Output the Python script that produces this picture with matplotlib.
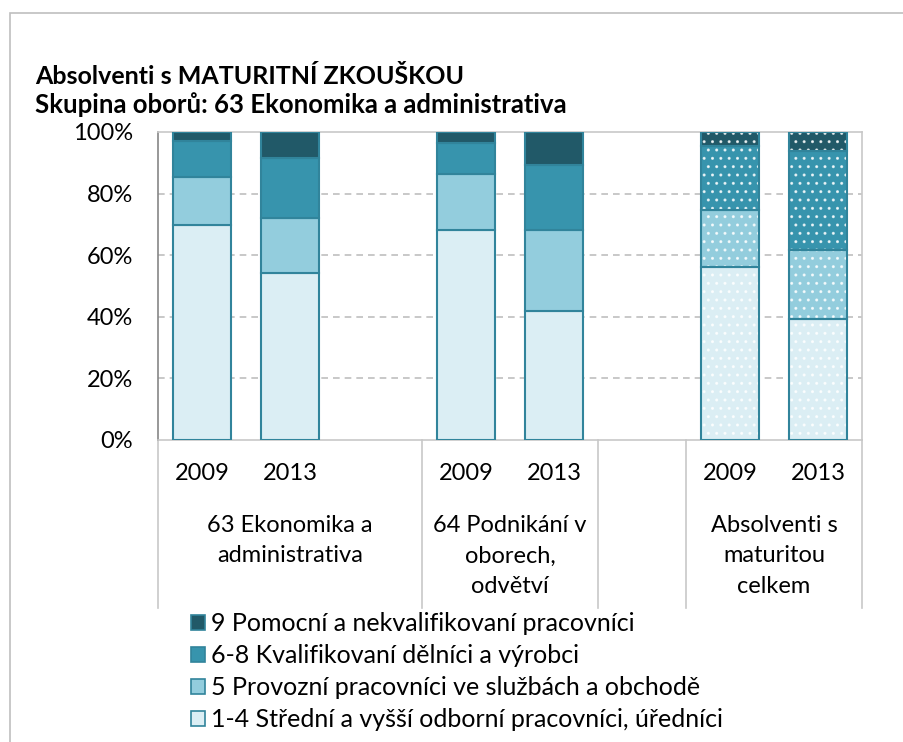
import matplotlib
matplotlib.use('Agg')
import matplotlib.pyplot as plt
from matplotlib.patches import Patch, Rectangle
import numpy as np

plt.rcParams['font.family'] = ['Lato', 'DejaVu Sans']
plt.rcParams['hatch.linewidth'] = 1.0

# data (shares)
years = ['2009', '2013', '2009', '2013', '2009', '2013']
slots = [0, 1, 3, 4, 6, 7]
groups = ['63 Ekonomika a\nadministrativa', '64 Podnikání v\noborech,\nodvětví',
          'Absolventi s\nmaturitou\ncelkem']
series = ['1-4 Střední a vyšší odborní pracovníci, úředníci',
          '5 Provozní pracovníci ve službách a obchodě',
          '6-8 Kvalifikovaní dělníci a výrobci',
          '9 Pomocní a nekvalifikovaní pracovníci']
s_14 = [69.7, 54.2, 68.3, 41.9, 56.1, 39.4]
s_5 = [15.8, 18.0, 18.2, 26.4, 18.7, 22.2]
s_68 = [11.6, 19.3, 9.8, 20.9, 20.7, 32.2]
s_9 = [2.9, 8.5, 3.7, 10.8, 4.5, 6.2]
dotted = [False, False, False, False, True, True]

colors = ['#dbeef4', '#93cddd', '#3794ad', '#215968']
edge = '#31849b'

fig = plt.figure(figsize=(9.04, 7.42), dpi=100)
W, H = 904, 742
ax = fig.add_axes([158 / W, 1 - 440 / H, (862 - 158) / W, (440 - 132) / H])

# outer chart frame
fig.add_artist(Rectangle((10 / W, -0.1), 1.2, 1 - 13 / H + 0.1, transform=fig.transFigure,
                         fill=False, edgecolor='#bfbfbf', linewidth=1.2))

vals = [s_14, s_5, s_68, s_9]
bottom = np.zeros(len(slots))
for v, c in zip(vals, colors):
    v = np.array(v) / 100
    for i in range(len(slots)):
        if dotted[i]:
            ax.bar(slots[i], v[i], 0.65, bottom=bottom[i], color=c,
                   edgecolor=(1, 1, 1, 0.75), hatch='..', linewidth=0, zorder=3)
            ax.bar(slots[i], v[i], 0.65, bottom=bottom[i], fill=False,
                   edgecolor=edge, linewidth=1.5, zorder=4)
        else:
            ax.bar(slots[i], v[i], 0.65, bottom=bottom[i], color=c,
                   edgecolor=edge, linewidth=1.5, zorder=3)
    bottom += v

ax.set_xlim(-0.5, 7.5)
ax.set_ylim(0, 1)
for y in [0.2, 0.4, 0.6, 0.8]:
    ax.axhline(y, color='#bfbfbf', linestyle=(0, (4, 3)), linewidth=1.2, zorder=1)
ax.set_yticks([0, 0.2, 0.4, 0.6, 0.8, 1.0])
ax.set_yticklabels(['0%', '20%', '40%', '60%', '80%', '100%'], fontsize=17)
ax.tick_params(axis='y', length=0, pad=18)
ax.set_xticks([])
ax.spines['left'].set_color('#868686')
ax.spines['left'].set_linewidth(1.2)
for s in ['top', 'right', 'bottom']:
    ax.spines[s].set_color('#c8c8c8')
    ax.spines[s].set_linewidth(1.2)

# multi-level category axis
tr = ax.get_xaxis_transform()
for x in [-0.5, 2.5, 4.5, 5.5, 7.5]:
    ax.plot([x, x], [0, -168 / 308], transform=tr, color='#c8c8c8',
            linewidth=1.2, clip_on=False)
for x, yr in zip(slots, years):
    ax.text(x, -33 / 308, yr, transform=tr, ha='center', va='center', fontsize=17)
group_x = [1.0, 3.5, 6.5]
for gx, g in zip(group_x, groups):
    ax.text(gx, -75 / 308, g, transform=tr, ha='center', va='top', fontsize=17,
            linespacing=1.55)

# title
fig.text(35 / W, 1 - 77 / H, 'Absolventi s MATURITNÍ ZKOUŠKOU', fontsize=18,
         fontweight='bold', va='center')
fig.text(35 / W, 1 - 105 / H, 'Skupina oborů: 63 Ekonomika a administrativa', fontsize=18.5,
         fontweight='bold', va='center')

# legend (top-down order reversed)
handles = [Patch(facecolor=c, edgecolor=edge, linewidth=1.2) for c in colors][::-1]
fig.legend(handles, series[::-1], loc='upper left', bbox_to_anchor=(191 / W, 1 - 612 / H),
           frameon=False, fontsize=18, handlelength=0.55, handleheight=0.55,
           handletextpad=0.25, labelspacing=0.36, borderpad=0, borderaxespad=0)

fig.savefig('out.png', dpi=100)
